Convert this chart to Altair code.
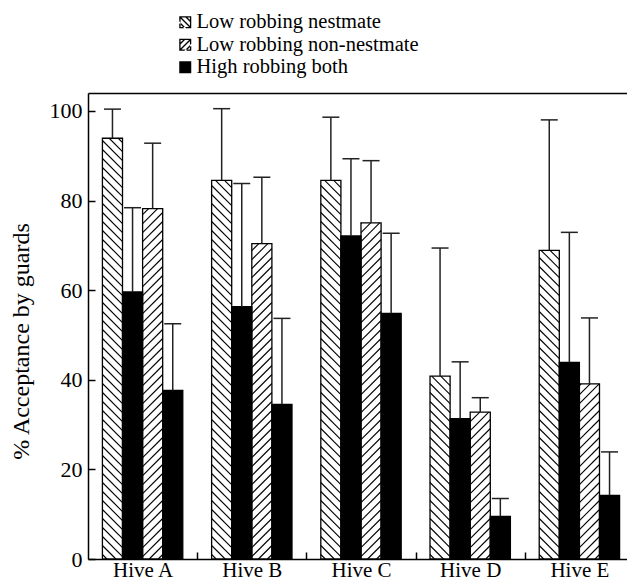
import json
import numpy as np
import pandas as pd
import altair as alt

# ---------------- data ----------------
HIVES = ["Hive A", "Hive B", "Hive C", "Hive D", "Hive E"]
LEGEND_LABELS = ["Low robbing nestmate", "Low robbing non-nestmate", "High robbing both"]

low_nestmate = [93.9, 84.5, 84.5, 40.8, 68.9]
low_nestmate_err = [6.5, 16.0, 14.1, 28.6, 29.1]
high_vs_nestmate = [59.6, 56.3, 72.1, 31.3, 43.9]
high_vs_nestmate_err = [18.8, 27.5, 17.2, 12.7, 29.0]
low_nonnestmate = [78.2, 70.4, 75.0, 32.8, 39.1]
low_nonnestmate_err = [14.6, 14.8, 13.9, 3.2, 14.7]
high_vs_nonnestmate = [37.6, 34.5, 54.8, 9.5, 14.2]
high_vs_nonnestmate_err = [14.9, 19.2, 17.9, 4.0, 9.7]

Y_TICKS = [0, 20, 40, 60, 80, 100]
Y_MAX = 104

# ---------------- layout helpers ----------------
SLOT_PX = 109.2                    # pixel width of one hive slot
W, H = 539, 466
X_MAX = W / SLOT_PX                # right edge of the frame (slightly cropped, as in the figure)
BAR_W = 0.184                      # bar width as a fraction of a hive slot
GAP = (1 - 4 * BAR_W) / 2
px_x = SLOT_PX
px_y = H / Y_MAX
SLOPE = px_x / px_y                # 45 degree hatch in data units
STEP = 9 / px_y                    # vertical spacing of hatch lines

SERIES = [
    ("Low robbing nestmate", "back", low_nestmate, low_nestmate_err),
    ("High robbing both", "solid", high_vs_nestmate, high_vs_nestmate_err),
    ("Low robbing non-nestmate", "fwd", low_nonnestmate, low_nonnestmate_err),
    ("High robbing both", "solid", high_vs_nonnestmate, high_vs_nonnestmate_err),
]

rows = []
for i, hive in enumerate(HIVES):
    for k, (lab, pat, vals, errs) in enumerate(SERIES):
        left = i + GAP + k * BAR_W
        rows.append(dict(hive=hive, series=lab, pattern=pat, x0=left, x1=left + BAR_W,
                         xc=left + BAR_W / 2, value=vals[i], upper=vals[i] + errs[i]))
bars = pd.DataFrame(rows)

# hatch segments clipped to each hatched bar
hrows = []
rise = SLOPE * BAR_W
for r in rows:
    if r["pattern"] == "solid":
        continue
    v, xl, xr = r["value"], r["x0"], r["x1"]
    if r["pattern"] == "back":
        for c in np.arange(STEP / 2, v + rise, STEP):
            xs = max(xl, xl + (c - v) / SLOPE)
            xe = min(xr, xl + c / SLOPE)
            if xe - xs > 1e-6:
                hrows.append(dict(hx0=xs, hx1=xe, hy0=c - SLOPE * (xs - xl), hy1=c - SLOPE * (xe - xl)))
    else:
        for c in np.arange(-rise + STEP / 2, v, STEP):
            xs = max(xl, xl - c / SLOPE)
            xe = min(xr, xl + (v - c) / SLOPE)
            if xe - xs > 1e-6:
                hrows.append(dict(hx0=xs, hx1=xe, hy0=c + SLOPE * (xs - xl), hy1=c + SLOPE * (xe - xl)))
hatch = pd.DataFrame(hrows)


# ---------------- legend symbols (filled outlines, unit square -1..1) ----------------
def _poly(pts):
    return "M" + "L".join(f"{x:.3f},{y:.3f}" for x, y in pts) + "Z"


def hatched_symbol(mirror):
    f, d = 0.22, 0.16
    polys = [
        [(-1, -1), (1, -1), (1, 1), (-1, 1)],
        [(-1 + f, -1 + f), (-1 + f, 1 - f), (1 - f, 1 - f), (1 - f, -1 + f)],
        [(-1 + d, -1), (1, 1 - d), (1 - d, 1), (-1, -1 + d)],
        [(-d, -1), (d, -1), (1, -d), (1, d)],
        [(-1, -d), (-1, d), (-d, 1), (d, 1)],
    ]
    if mirror:
        polys = [[(-x, y) for x, y in p] for p in polys]
    return " ".join(_poly(p) for p in polys)


PATH_BACK = hatched_symbol(False)
PATH_FWD = hatched_symbol(True)

FONT = "Liberation Serif"
xs_scale = alt.Scale(domain=[0, X_MAX], nice=False, zero=False)
ys_scale = alt.Scale(domain=[0, Y_MAX], nice=False)

label_expr = json.dumps(HIVES) + "[floor(datum.value)]"

fill_layer = alt.Chart(bars).mark_rect(opacity=1, strokeWidth=0).encode(
    x=alt.X("x0:Q", scale=xs_scale,
            axis=alt.Axis(orient="bottom", values=[i + 0.5 for i in range(len(HIVES))],
                          labelExpr=label_expr, ticks=False, domain=True, grid=False,
                          title=None, labelPadding=0, labelFontSize=21, labelFlush=False,
                          labelOverlap=False)),
    x2="x1:Q",
    y=alt.Y("value:Q", scale=ys_scale,
            axis=alt.Axis(orient="left", values=Y_TICKS, ticks=False, grid=False,
                          title="% Acceptance by guards", labelPadding=6, labelFontSize=22,
                          titleFontSize=24, titleX=-55, titleY=248)),
    y2=alt.datum(0),
    fill=alt.condition("datum.pattern == 'solid'", alt.value("black"), alt.value("white")),
)

hatch_layer = alt.Chart(hatch).mark_rule(color="black", strokeWidth=1.1).encode(
    x=alt.X("hx0:Q", scale=xs_scale,
            axis=alt.Axis(orient="bottom", values=list(range(1, len(HIVES))), offset=-7,
                          tickSize=7, ticks=True, labels=False, domain=False, grid=False, title=None)),
    x2="hx1:Q",
    y=alt.Y("hy0:Q", scale=ys_scale,
            axis=alt.Axis(orient="left", values=Y_TICKS, offset=-7, tickSize=7, ticks=True,
                          labels=False, domain=False, grid=False, title=None)),
    y2="hy1:Q",
)

outline_layer = alt.Chart(bars).mark_rect(filled=False, color="black", strokeWidth=1.3, opacity=1).encode(
    x=alt.X("x0:Q", scale=xs_scale,
            axis=alt.Axis(orient="top", labels=False, ticks=False, grid=False, title=None, domain=True)),
    x2="x1:Q",
    y=alt.Y("value:Q", scale=ys_scale, axis=None),
    y2=alt.datum(0),
)

stem_layer = alt.Chart(bars).mark_rule(color="#222", strokeWidth=1.5).encode(
    x=alt.X("xc:Q", scale=xs_scale, axis=None),
    y=alt.Y("value:Q", scale=ys_scale, axis=None),
    y2="upper:Q",
)

cap_layer = alt.Chart(bars).mark_tick(orient="horizontal", size=17, thickness=1.5,
                                      color="#222", opacity=1).encode(
    x=alt.X("xc:Q", scale=xs_scale, axis=None),
    y=alt.Y("upper:Q", scale=ys_scale, axis=None),
)

leg_spec = alt.Legend(title=None, orient="none", legendX=87, legendY=-81, padding=0,
                      symbolSize=144, symbolFillColor="black", symbolStrokeWidth=0,
                      symbolOpacity=1, labelFont=FONT, labelFontSize=20.5, labelColor="black",
                      labelOffset=1, rowPadding=1.5, labelLimit=0)

legend_layer = alt.Chart(pd.DataFrame({"series": LEGEND_LABELS})).transform_filter("false").mark_point(
    filled=True, fill="black", strokeWidth=0, opacity=1).encode(
    shape=alt.Shape("series:N", scale=alt.Scale(domain=LEGEND_LABELS, range=[PATH_BACK, PATH_FWD, "square"]),
                    legend=leg_spec),
)

chart = alt.layer(
    fill_layer, hatch_layer, outline_layer, stem_layer, cap_layer, legend_layer
).resolve_axis(x="independent", y="independent").properties(
    width=W, height=H,
    autosize=alt.AutoSizeParams(type="none"),
    padding={"left": 80, "top": 85, "right": 0, "bottom": 21},
).configure_view(stroke=None).configure_axis(
    labelFont=FONT, titleFont=FONT, labelColor="black", titleColor="black",
    domainColor="black", tickColor="black", domainWidth=1.5, tickWidth=1.5,
    titleFontWeight="normal", grid=False,
)

chart.save("out.html", embed_options={"renderer": "svg", "actions": False})
